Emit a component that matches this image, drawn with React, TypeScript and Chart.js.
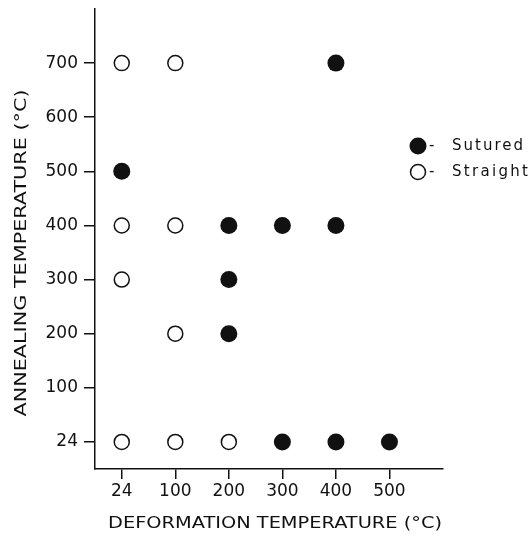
import React, { useEffect, useRef } from "react";
import { Chart, registerables } from "chart.js";

Chart.register(...registerables);

const deformationTemps = ["24", "100", "200", "300", "400", "500"];
const annealingTemps = ["24", "100", "200", "300", "400", "500", "600", "700"];

// points as [deformation temp, annealing temp]
const suturedPoints: [string, string][] = [
  ["400", "700"],
  ["24", "500"],
  ["200", "400"],
  ["300", "400"],
  ["400", "400"],
  ["200", "300"],
  ["200", "200"],
  ["300", "24"],
  ["400", "24"],
  ["500", "24"],
];
const straightPoints: [string, string][] = [
  ["24", "700"],
  ["100", "700"],
  ["24", "400"],
  ["100", "400"],
  ["24", "300"],
  ["100", "200"],
  ["24", "24"],
  ["100", "24"],
  ["200", "24"],
];

const xTitle = "DEFORMATION TEMPERATURE (°C)";
const yTitle = "ANNEALING TEMPERATURE (°C)";
const legendLabels = ["Sutured", "Straight"];

const toXY = (pts: [string, string][]) =>
  pts.map(([x, y]) => ({ x: deformationTemps.indexOf(x), y: annealingTemps.indexOf(y) }));

const FONT = "'DejaVu Sans', sans-serif";

function spacedText(ctx: CanvasRenderingContext2D, text: string, x: number, y: number, targetWidth: number) {
  (ctx as any).letterSpacing = "0px";
  const w = ctx.measureText(text).width;
  const sp = Math.max(0, (targetWidth - w) / Math.max(1, text.length - 1));
  (ctx as any).letterSpacing = `${sp}px`;
  ctx.fillText(text, x, y);
  (ctx as any).letterSpacing = "0px";
}

// draw centered text stretched horizontally to a target width (wide glyphs)
function stretchedText(ctx: CanvasRenderingContext2D, text: string, targetWidth: number) {
  const w = ctx.measureText(text).width;
  const s = targetWidth / w;
  ctx.save();
  ctx.scale(s, 1);
  ctx.textAlign = "center";
  ctx.fillText(text, 0, 0);
  ctx.restore();
}

const overlayPlugin = {
  id: "overlay",
  afterDraw(chart: any) {
    const ctx = chart.ctx as CanvasRenderingContext2D;
    ctx.save();
    ctx.fillStyle = "#111";
    ctx.strokeStyle = "#111";
    // axis titles
    ctx.font = `16px ${FONT}`;
    ctx.textBaseline = "middle";
    ctx.save();
    ctx.translate(275, 524);
    stretchedText(ctx, xTitle, 334);
    ctx.restore();
    ctx.save();
    ctx.translate(22, 253);
    ctx.rotate(-Math.PI / 2);
    stretchedText(ctx, yTitle, 327);
    ctx.restore();
    // legend
    const rows = [
      { y: 146, filled: true, label: legendLabels[0], w: 71 },
      { y: 172, filled: false, label: legendLabels[1], w: 76 },
    ];
    ctx.font = `15px ${FONT}`;
    ctx.textAlign = "left";
    rows.forEach((r) => {
      ctx.beginPath();
      ctx.arc(418, r.y, r.filled ? 8.5 : 7.5, 0, Math.PI * 2);
      if (r.filled) {
        ctx.fill();
      } else {
        ctx.lineWidth = 1.5;
        ctx.stroke();
      }
      ctx.fillText("-", 429, r.y);
      spacedText(ctx, r.label, 452, r.y, r.w);
    });
    ctx.restore();
  },
};

export default function App() {
  const ref = useRef<HTMLCanvasElement>(null);
  useEffect(() => {
    if (!ref.current) return;
    const chart = new Chart(ref.current, {
      type: "scatter",
      data: {
        datasets: [
          {
            label: legendLabels[0],
            data: toXY(suturedPoints),
            pointRadius: 8.5,
            pointBackgroundColor: "#111",
            pointBorderColor: "#111",
            pointBorderWidth: 0,
          },
          {
            label: legendLabels[1],
            data: toXY(straightPoints),
            pointRadius: 7.5,
            pointBackgroundColor: "#fff",
            pointBorderColor: "#111",
            pointBorderWidth: 1.5,
          },
        ],
      },
      options: {
        animation: false,
        responsive: true,
        maintainAspectRatio: false,
        layout: { padding: { top: 8, right: 85, left: 0, bottom: 0 } },
        plugins: { legend: { display: false }, tooltip: { enabled: false } },
        scales: {
          x: {
            type: "linear",
            min: -0.5,
            max: 6,
            afterBuildTicks: (scale: any) => {
              scale.ticks = deformationTemps.map((_, i) => ({ value: i }));
            },
            afterFit: (scale: any) => {
              scale.height = 70;
              scale.paddingLeft = 0;
              scale.paddingRight = 0;
            },
            ticks: {
              callback: (v: any) => deformationTemps[v as number] ?? "",
              color: "#111",
              font: { family: FONT, size: 17 },
              padding: 2,
              maxRotation: 0,
            },
            grid: {
              drawOnChartArea: false,
              drawTicks: true,
              tickLength: 10,
              color: "#111",
              lineWidth: 1.5,
            },
            border: { display: true, color: "#111", width: 1.5 },
          },
          y: {
            type: "linear",
            min: -0.5,
            max: 8,
            afterBuildTicks: (scale: any) => {
              scale.ticks = annealingTemps.map((_, i) => ({ value: i }));
            },
            afterFit: (scale: any) => {
              scale.width = 95;
              scale.paddingTop = 0;
              scale.paddingBottom = 0;
            },
            ticks: {
              callback: (v: any) => annealingTemps[v as number] ?? "",
              color: "#111",
              font: { family: FONT, size: 17 },
              padding: 6,
            },
            grid: {
              drawOnChartArea: false,
              drawTicks: true,
              tickLength: 11,
              color: "#111",
              lineWidth: 1.5,
            },
            border: { display: true, color: "#111", width: 1.5 },
          },
        },
      },
      plugins: [overlayPlugin],
    });
    return () => chart.destroy();
  }, []);
  return (
    <div style={{ position: "fixed", left: 0, top: 0, width: 528, height: 539, background: "#fff" }}>
      <canvas ref={ref} />
    </div>
  );
}
